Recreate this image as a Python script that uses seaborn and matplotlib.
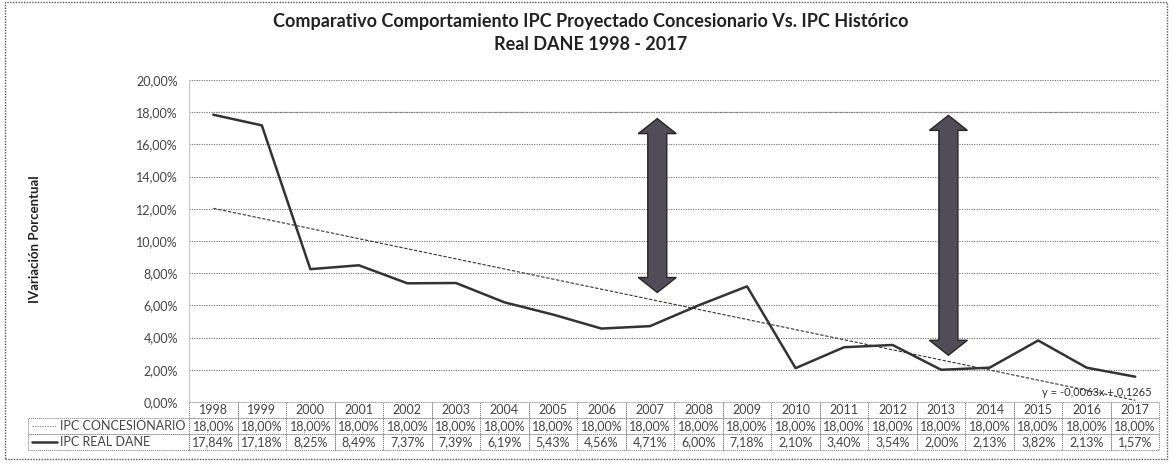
import matplotlib
matplotlib.use("Agg")
import matplotlib.pyplot as plt
import pandas as pd
import seaborn as sns
from matplotlib.lines import Line2D
from matplotlib.patches import Polygon, Rectangle
from matplotlib.table import Table

YEARS = ["1998", "1999", "2000", "2001", "2002", "2003", "2004", "2005", "2006", "2007",
         "2008", "2009", "2010", "2011", "2012", "2013", "2014", "2015", "2016", "2017"]
IPC_CONCESIONARIO = [18.00, 18.00, 18.00, 18.00, 18.00, 18.00, 18.00, 18.00, 18.00, 18.00,
                     18.00, 18.00, 18.00, 18.00, 18.00, 18.00, 18.00, 18.00, 18.00, 18.00]
IPC_REAL_DANE = [17.84, 17.18, 8.25, 8.49, 7.37, 7.39, 6.19, 5.43, 4.56, 4.71,
                 6.00, 7.18, 2.10, 3.40, 3.54, 2.00, 2.13, 3.82, 2.13, 1.57]
SERIES_LABELS = ["IPC CONCESIONARIO", "IPC REAL DANE"]
Y_TICKS = [0, 2, 4, 6, 8, 10, 12, 14, 16, 18, 20]
# double arrows: (year, top, bottom) in %
ARROWS = [("2007", 17.6, 6.8), ("2013", 17.8, 2.9)]
TITLE = "Comparativo Comportamiento IPC Proyectado Concesionario Vs. IPC Histórico\nReal DANE 1998 - 2017"
TREND_LABEL = "y = -0,0063x + 0,1265"

sns.set_theme(style="white")
plt.rcParams["font.family"] = ["Lato", "DejaVu Sans"]

df = pd.DataFrame({
    "pos": range(len(YEARS)),
    "year": YEARS,
    "conc": IPC_CONCESIONARIO,
    "real": IPC_REAL_DANE,
})


def pct(v):
    return f"{v:.2f}%".replace(".", ",")


fig = plt.figure(figsize=(11.72, 4.69), dpi=100)
ax = fig.add_axes([0.1613, 0.1429, 0.828, 0.6866])

for y in Y_TICKS:
    ax.axhline(y, color="#6e6e6e", lw=0.8, ls=(0, (1, 1.2)), zorder=0)

sns.lineplot(data=df, x="pos", y="conc", ax=ax, color="#8c8c8c", lw=0.9,
             linestyle=(0, (1, 1)), zorder=2)
sns.lineplot(data=df, x="pos", y="real", ax=ax, color="#333333", lw=1.8, zorder=3)
sns.regplot(data=df, x="pos", y="real", ax=ax, ci=None, scatter=False, truncate=True,
            line_kws=dict(color="#333333", lw=0.8, ls=(0, (3, 1.5)), zorder=3))

# fat double-headed arrows (sizes in pixels converted to data units)
px_x = (len(YEARS)) / (0.828 * 1172)
px_y = 20 / (0.6866 * 469)
shaft, head, head_len = 9.5 * px_x, 19 * px_x, 15 * px_y
for year, top, bottom in ARROWS:
    xi = YEARS.index(year) + 0.15
    verts = [
        (xi, top), (xi + head, top - head_len), (xi + shaft, top - head_len),
        (xi + shaft, bottom + head_len), (xi + head, bottom + head_len), (xi, bottom),
        (xi - head, bottom + head_len), (xi - shaft, bottom + head_len),
        (xi - shaft, top - head_len), (xi - head, top - head_len),
    ]
    ax.add_patch(Polygon(verts, closed=True, fc="#514d58", ec="#262626", lw=1.0, zorder=4))

ax.text(18.2, 0.56, TREND_LABEL, ha="center", va="center", fontsize=8, color="#333333")

ax.set_xlim(-0.5, len(YEARS) - 0.5)
ax.set_ylim(0, 20)
ax.set_yticks(Y_TICKS)
ax.set_yticklabels([pct(v) for v in Y_TICKS])
ax.set_xticks([])
ax.set_xlabel("")
ax.set_ylabel("")
ax.tick_params(axis="y", length=0, labelsize=9, labelcolor="#444444", pad=8)
for side in ["top", "right", "bottom"]:
    ax.spines[side].set_visible(False)
ax.spines["left"].set_color("#c8c8c8")
ax.spines["left"].set_linewidth(0.8)

# data table below the plot
lab_w = 0.166
tab_h = 0.149
row_h = tab_h / 3
col_w = 1.0 / len(YEARS)
tbl = Table(ax, bbox=[0, -tab_h, 1, tab_h])
for c, year in enumerate(YEARS):
    tbl.add_cell(0, c, width=col_w, height=row_h, text=year, loc="center")
for r, vals in enumerate([IPC_CONCESIONARIO, IPC_REAL_DANE], start=1):
    cell = tbl.add_cell(r, -1, width=lab_w, height=row_h, text=SERIES_LABELS[r - 1], loc="left")
    cell.PAD = 0.2
    for c, v in enumerate(vals):
        tbl.add_cell(r, c, width=col_w, height=row_h, text=pct(v), loc="center")
tbl.auto_set_font_size(False)
for (r, c), cell in tbl.get_celld().items():
    cell.set_edgecolor("#7a7a7a")
    cell.set_linestyle((0, (1, 1)))
    cell.set_linewidth(0.7)
    cell.get_text().set_fontsize(9)
    cell.get_text().set_color("#444444")
ax.add_table(tbl)

# legend keys inside the row label cells
for r, (color, lw, ls) in enumerate([("#8c8c8c", 0.9, (0, (1, 1))), ("#333333", 1.8, "-")], start=1):
    yc = -row_h * (r + 0.5)
    ax.add_line(Line2D([-lab_w + 0.004, -lab_w + 0.030], [yc, yc], transform=ax.transAxes,
                       color=color, lw=lw, ls=ls, clip_on=False))

fig.text(0.504, 0.93, TITLE, ha="center", va="center", fontsize=13, fontweight="bold",
         color="#222222", linespacing=1.4)
fig.text(0.03, 0.49, "IVariación Porcentual", rotation=90, ha="center", va="center",
         fontsize=9.5, fontweight="bold", color="#222222")

fig.patches.append(Rectangle((0.004, 0.022), 0.992, 0.974, transform=fig.transFigure,
                             fill=False, ec="#555555", lw=1.0, ls=(0, (1, 1))))

fig.savefig("out.png", dpi=100)
